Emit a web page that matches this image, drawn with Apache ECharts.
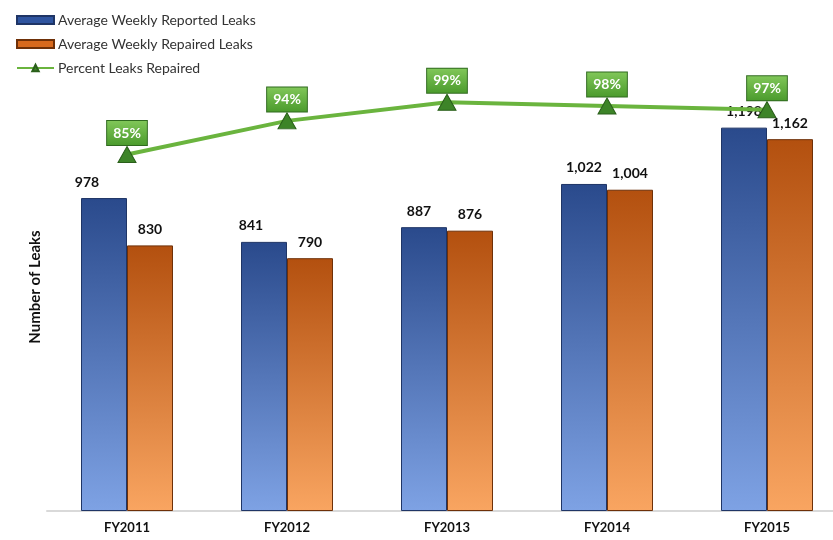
<!DOCTYPE html>
<html>
<head>
<meta charset="utf-8">
<script src="https://cdn.jsdelivr.net/npm/echarts@6/dist/echarts.min.js"></script>
<style>html,body{margin:0;padding:0;background:#fff}#c{width:833px;height:540px}</style>
</head>
<body>
<div id="c"></div>
<script>
var categories = ['FY2011', 'FY2012', 'FY2013', 'FY2014', 'FY2015'];
var reported = [978, 841, 887, 1022, 1198];
var repaired = [830, 790, 876, 1004, 1162];
var percentRepaired = [85, 94, 99, 98, 97];

var seriesNames = ['Average Weekly Reported Leaks', 'Average Weekly Repaired Leaks', 'Percent Leaks Repaired'];
var yTitle = 'Number of Leaks';

var reportedLabelShift = [-17, -13, -5, 0, 0];

var font = 'Lato, "Noto Sans", sans-serif';
function fmt(v) { return v.toLocaleString('en-US'); }

var chart = echarts.init(document.getElementById('c'), null, {renderer: 'canvas'});
var blueGrad = new echarts.graphic.LinearGradient(0, 0, 0, 1, [
  {offset: 0, color: '#2a4a8c'}, {offset: 1, color: '#7ea2e4'}]);
var orangeGrad = new echarts.graphic.LinearGradient(0, 0, 0, 1, [
  {offset: 0, color: '#b3500f'}, {offset: 1, color: '#f9a561'}]);
var greenGrad = new echarts.graphic.LinearGradient(0, 0, 0, 1, [
  {offset: 0, color: '#82c85a'}, {offset: 1, color: '#4a9a2c'}]);

chart.setOption({
  animation: false,
  textStyle: {fontFamily: font},
  legend: {
    orient: 'vertical', left: 11, top: 8,
    itemWidth: 37, itemHeight: 8, itemGap: 10,
    textStyle: {fontSize: 14, color: '#333', fontFamily: font, padding: [0, 0, 0, -1]},
    data: [
      {name: seriesNames[0], icon: 'rect', itemStyle: {color: '#2f55a0'}},
      {name: seriesNames[1], icon: 'rect', itemStyle: {color: '#d86a1e'}},
      {name: seriesNames[2]}
    ]
  },
  grid: {left: 47, top: 63, width: 800, height: 448, outerBoundsMode: 'none', containLabel: false},
  xAxis: {
    type: 'category', data: categories,
    axisLine: {lineStyle: {color: '#d9d9d9', width: 2}},
    axisTick: {show: false},
    axisLabel: {color: '#111', fontWeight: 'bold', fontSize: 13, margin: 10}
  },
  yAxis: [
    {type: 'value', min: 0, max: 1400, name: yTitle, nameLocation: 'middle', nameGap: 4,
     nameRotate: 90, nameTextStyle: {fontWeight: 'bold', fontSize: 15, color: '#111'},
     axisLabel: {show: false}, axisLine: {show: false}, axisTick: {show: false}, splitLine: {show: false}},
    {type: 'value', min: -10.5, max: 109.5, show: false, splitLine: {show: false}}
  ],
  series: [
    {name: seriesNames[0], type: 'bar', barWidth: 46, barGap: '0%',
     itemStyle: {color: blueGrad, borderColor: '#1f3566', borderWidth: 1},
     data: reported.map(function (v, i) {
       return {value: v, label: {offset: [reportedLabelShift[i], 0]}};
     }),
     label: {show: true, position: 'top', distance: 9, color: '#111', fontWeight: 'bold', fontSize: 14,
       formatter: function (p) { return fmt(p.value); }}
    },
    {name: seriesNames[1], type: 'bar', barWidth: 46,
     itemStyle: {color: orangeGrad, borderColor: '#6e3008', borderWidth: 1},
     data: repaired,
     label: {show: true, position: 'top', distance: 9, color: '#111', fontWeight: 'bold', fontSize: 14,
       formatter: function (p) { return fmt(p.value); }}
    },
    {name: seriesNames[2], type: 'line', yAxisIndex: 1, data: percentRepaired,
     symbol: 'triangle', symbolSize: [18, 16],
     lineStyle: {color: '#6ab43e', width: 4},
     itemStyle: {color: '#3d8428', borderColor: '#2a5f1a', borderWidth: 1},
     z: 5,
     label: {show: true, position: 'top', distance: 1, color: '#fff', fontWeight: 'bold', fontSize: 14,
       backgroundColor: greenGrad, borderColor: '#2f6a1e', borderWidth: 1, padding: [5, 6, 5, 6],
       formatter: function (p) { return p.value + '%'; }}
    }
  ]
});
</script>
</body>
</html>
